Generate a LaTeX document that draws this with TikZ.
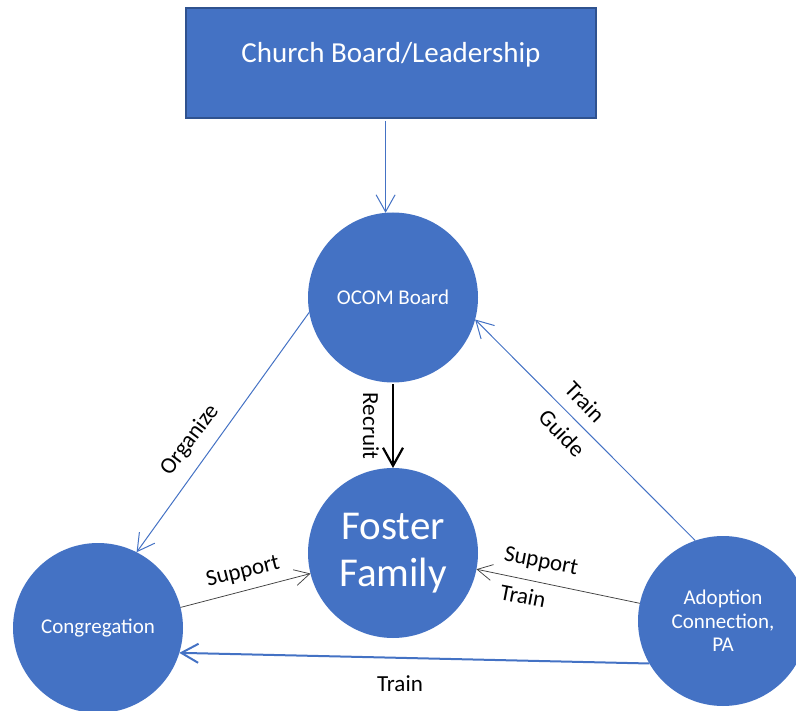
\documentclass[tikz,border=0pt]{standalone}
\usepackage{fontspec}
\setmainfont{Carlito}
\usetikzlibrary{arrows.meta}
\definecolor{obl}{HTML}{4472C4}
\definecolor{oedge}{HTML}{2F528F}
\definecolor{ogray}{HTML}{404040}
\begin{document}
\begin{tikzpicture}[x=1pt,y=-1pt,
  bubble/.style={circle,fill=obl,minimum size=170pt,inner sep=0pt,outer sep=0pt,text=white,align=center,font=\fontsize{21}{23.5}\selectfont},
  lbl/.style={inner sep=0pt,font=\fontsize{23}{26}\selectfont,text=black},
  bluearrow/.style={draw=obl,line width=1pt,-{Straight Barb[length=17pt,width=19pt]}},
  grayarrow/.style={draw=ogray,line width=0.75pt,-{Straight Barb[length=15pt,width=16pt]}},
]
\useasboundingbox (0,0) rectangle (796,711);
\node[draw=oedge,line width=2pt,fill=obl,minimum width=410pt,minimum height=110pt,inner sep=0pt,
  label={[text=white,font=\fontsize{29}{34}\selectfont,yshift=8pt]center:Church Board/Leadership}] (church) at (391,63) {};
\node[bubble] (ocom) at (393,297.5) {OCOM Board};
\node[bubble,font=\fontsize{41}{47}\selectfont] (foster) at (393,553) {Foster\\Family};
\node[bubble] (cong) at (98,628) {Congregation};
\node[bubble] (adopt) at (723,621) {Adoption\\Connection,\\PA};

\draw[bluearrow,shorten <=2pt] (church.south -| ocom.95) -- (ocom.95);
\draw[draw=black,line width=2.2pt,shorten <=2pt,-{Straight Barb[length=18pt,width=20pt]}] (ocom.south) -- (foster.north);
\draw[bluearrow] (ocom.190) -- (cong.63);
\draw[bluearrow] (adopt.109) -- (ocom.345);
\draw[grayarrow] (cong.14) -- (foster.194);
\draw[grayarrow] (adopt.168) -- (foster.349);
\draw[bluearrow,line width=2pt] (adopt.210.5) -- (cong.343);

\node[lbl,rotate=53] (lorg) at (190,440) {Organize};
\node[lbl,rotate=-90] (lrec) at (371,426) {Recruit};
\node[lbl,rotate=-46] (ltrainA) at (585,402) {Train};
\node[lbl,rotate=-46] (lguide) at (562,433) {Guide};
\node[lbl,rotate=14] (lsupA) at (243,572) {Support};
\node[lbl,rotate=-11] (lsupB) at (541,562) {Support};
\node[lbl,rotate=-11] (ltrainB) at (523,596) {Train};
\node[lbl] (ltrainC) at (400,684) {Train};
\end{tikzpicture}
\end{document}
